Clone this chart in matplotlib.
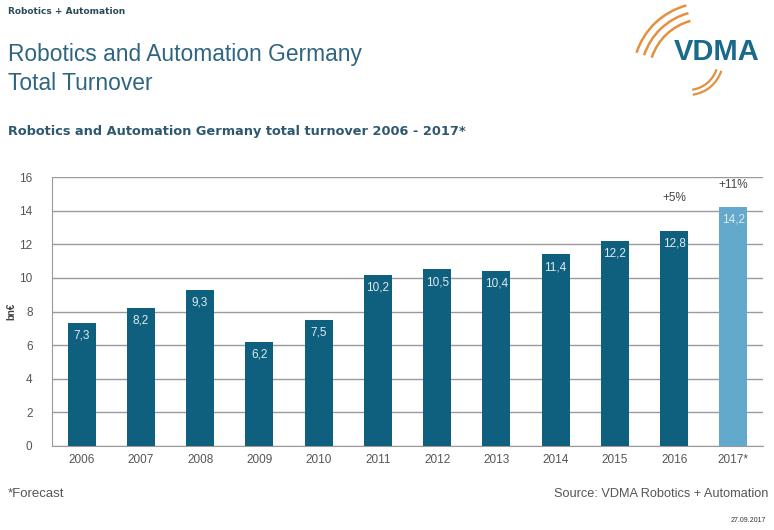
import matplotlib
matplotlib.use("Agg")
import matplotlib.pyplot as plt
from matplotlib.patches import Arc

plt.rcParams['font.family'] = ['Liberation Sans', 'DejaVu Sans']

years = ["2006", "2007", "2008", "2009", "2010", "2011", "2012", "2013", "2014", "2015", "2016", "2017*"]
turnover = [7.3, 8.2, 9.3, 6.2, 7.5, 10.2, 10.5, 10.4, 11.4, 12.2, 12.8, 14.2]
value_labels = ["7,3", "8,2", "9,3", "6,2", "7,5", "10,2", "10,5", "10,4", "11,4", "12,2", "12,8", "14,2"]
growth_labels = {10: "+5%", 11: "+11%"}
yticks = [0, 2, 4, 6, 8, 10, 12, 14, 16]

DARK = "#0f5f7e"
LIGHT = "#62a9cc"
TITLE = "#2f6580"

W, H = 774, 530
fig = plt.figure(figsize=(W / 100, H / 100), dpi=100)
fig.patch.set_facecolor("white")

ax = fig.add_axes([52 / W, 1 - 446 / H, (763 - 52) / W, (446 - 177) / H])
colors = [DARK] * (len(years) - 1) + [LIGHT]
x = list(range(len(years)))
ax.bar(x, turnover, width=0.47, color=colors, zorder=3)
ax.set_xlim(-0.5, len(years) - 0.5)
ax.set_ylim(0, 16)
ax.set_yticks(yticks)
ax.set_yticklabels([str(t) for t in yticks], fontsize=8.5, color="#555555")
ax.set_xticks(x)
ax.set_xticklabels(years, fontsize=8.5, color="#555555")
ax.tick_params(axis="y", length=0, pad=14)
ax.tick_params(axis="x", length=0, pad=6)
ax.grid(axis="y", color="#9a9a9a", linewidth=1.0, zorder=0)
for s in ["top", "right"]:
    ax.spines[s].set_visible(False)
ax.spines["left"].set_color("#9a9a9a")
ax.spines["bottom"].set_color("#9a9a9a")
ax.set_ylabel("bn€", fontsize=7, color="#444444", fontweight="bold", labelpad=2)

for i, (v, lab) in enumerate(zip(turnover, value_labels)):
    ax.text(i, v - 0.4, lab, ha="center", va="top", color="#e0ebf1", fontsize=8.5, zorder=4)
growth_offsets = {10: 1.95, 11: 1.3}
for i, g in growth_labels.items():
    ax.text(i, turnover[i] + growth_offsets[i], g, ha="center", va="center",
            color="#444444", fontsize=8.5)

# header texts
fig.text(8 / W, 1 - 12 / H, "Robotics + Automation", fontsize=6.5, fontweight="bold",
         color="#2a4a58", va="center", ha="left", family=["DejaVu Sans"])
fig.text(8 / W, 1 - 55 / H, "Robotics and Automation Germany", fontsize=16.4,
         color=TITLE, va="center", ha="left")
fig.text(8 / W, 1 - 83 / H, "Total Turnover", fontsize=16.4,
         color=TITLE, va="center", ha="left")
fig.text(8 / W, 1 - 131 / H, "Robotics and Automation Germany total turnover 2006 - 2017*",
         fontsize=9.3, fontweight="bold", color="#2d5870", va="center", ha="left",
         family=["DejaVu Sans"])

# footer
fig.text(8 / W, 1 - 494 / H, "*Forecast", fontsize=9.5, color="#555555", va="center", ha="left")
fig.text(768 / W, 1 - 494 / H, "Source: VDMA Robotics + Automation", fontsize=9.2,
         color="#555555", va="center", ha="right")
fig.text(766 / W, 1 - 520 / H, "27.09.2017", fontsize=5, color="#333333", va="center", ha="right")

# logo
fig.text(717 / W, 1 - 52 / H, "VDMA", fontsize=21, fontweight="bold", color="#1a6a8a",
         va="center", ha="center")
lax = fig.add_axes([0, 0, 1, 1], facecolor="none")
lax.set_xlim(0, W)
lax.set_ylim(H, 0)
lax.axis("off")
cx, cy = 705, 75
for r in (56, 64, 72):
    lax.add_patch(Arc((cx, cy), 2 * r, 2 * r, theta1=198, theta2=255, color="#e3903f", lw=1.8))
for r in (30, 35):
    lax.add_patch(Arc((688, 60), 2 * r, 2 * r, theta1=18, theta2=82, color="#e3903f", lw=1.6))

fig.savefig("out.png", dpi=100)
